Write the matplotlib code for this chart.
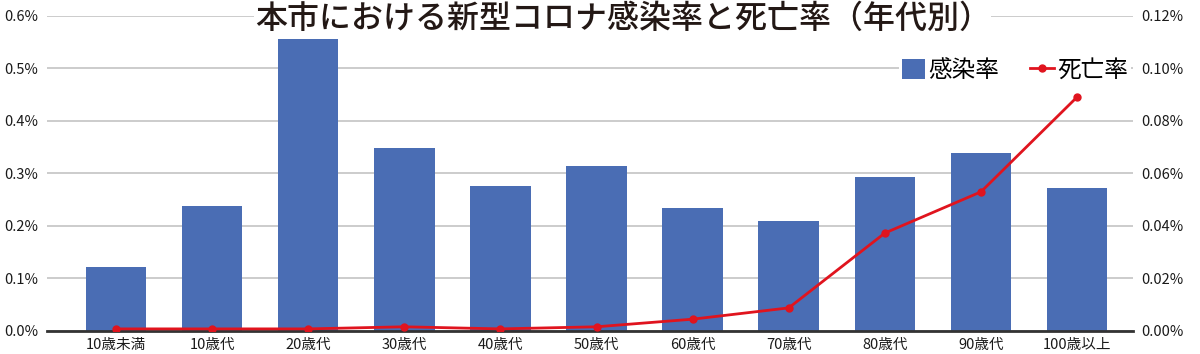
import matplotlib

matplotlib.use("Agg")
import matplotlib.pyplot as plt  # noqa: E402
from matplotlib.ticker import FuncFormatter  # noqa: E402

plt.rcParams["font.family"] = ["Noto Sans CJK JP", "DejaVu Sans"]

age_groups = ["10歳未満", "10歳代", "20歳代", "30歳代", "40歳代", "50歳代",
              "60歳代", "70歳代", "80歳代", "90歳代", "100歳以上"]
infection_rate = [0.122, 0.238, 0.556, 0.349, 0.276, 0.314,
                  0.234, 0.210, 0.293, 0.339, 0.272]
death_rate = [0.0008, 0.0008, 0.0008, 0.0016, 0.0008, 0.0016,
              0.0045, 0.0088, 0.0373, 0.0530, 0.0891]

BAR_COLOR = "#4a6db4"
LINE_COLOR = "#e0141e"

fig = plt.figure(figsize=(12, 3.54), dpi=100)
ax = fig.add_axes([0.039, 0.065, 0.905, 0.89])
ax2 = ax.twinx()

x = range(len(age_groups))
ax.bar(x, infection_rate, width=0.63, color=BAR_COLOR, zorder=2, label="感染率")
ax2.plot(x, death_rate, color=LINE_COLOR, lw=2, marker="o", ms=5,
         zorder=3, label="死亡率")

ax.set_xlim(-0.72, 10.58)
ax.set_ylim(0, 0.6)
ax2.set_ylim(0, 0.12)
ax.set_yticks([0, 0.1, 0.2, 0.3, 0.4, 0.5, 0.6])
ax2.set_yticks([0, 0.02, 0.04, 0.06, 0.08, 0.10, 0.12])
ax.yaxis.set_major_formatter(FuncFormatter(lambda v, _: f"{v:.1f}%"))
ax2.yaxis.set_major_formatter(FuncFormatter(lambda v, _: f"{v:.2f}%"))
ax.set_xticks(list(x))
ax.set_xticklabels(age_groups)

ax.grid(axis="y", color="#c4c4c4", lw=1.2, zorder=0)
ax.set_axisbelow(True)
for a in (ax, ax2):
    for side in ("top", "left", "right"):
        a.spines[side].set_visible(False)
    a.tick_params(length=0, labelsize=10.5, colors="#1a1a1a")
ax2.spines["bottom"].set_visible(False)
ax.spines["bottom"].set_color("#333333")
ax.spines["bottom"].set_linewidth(2)
ax.tick_params(axis="x", pad=5)
ax.tick_params(axis="y", pad=6)
ax2.tick_params(axis="y", pad=6)

ax.set_zorder(ax2.get_zorder() - 1)
ax.patch.set_visible(True)
ax2.patch.set_visible(False)

# title sits on the plot and hides the top gridline behind it
fig.text(0.519, 0.948, "本市における新型コロナ感染率と死亡率（年代別）",
         ha="center", va="center", fontsize=23, fontweight="medium",
         color="#231815",
         bbox=dict(facecolor="white", edgecolor="none", pad=0.5))

handles = [ax.containers[0], ax2.get_lines()[0]]
leg = ax2.legend(handles, ["感染率", "死亡率"], loc="upper right",
                 bbox_to_anchor=(0.998, 0.87), ncol=2, frameon=True,
                 fontsize=17, handlelength=1.0, handleheight=0.9,
                 handletextpad=0.15, columnspacing=1.3, borderpad=0.1,
                 borderaxespad=0)
leg.get_frame().set_edgecolor("none")
leg.get_frame().set_facecolor("white")
leg.get_frame().set_alpha(1)

fig.savefig("out.png", dpi=100)
